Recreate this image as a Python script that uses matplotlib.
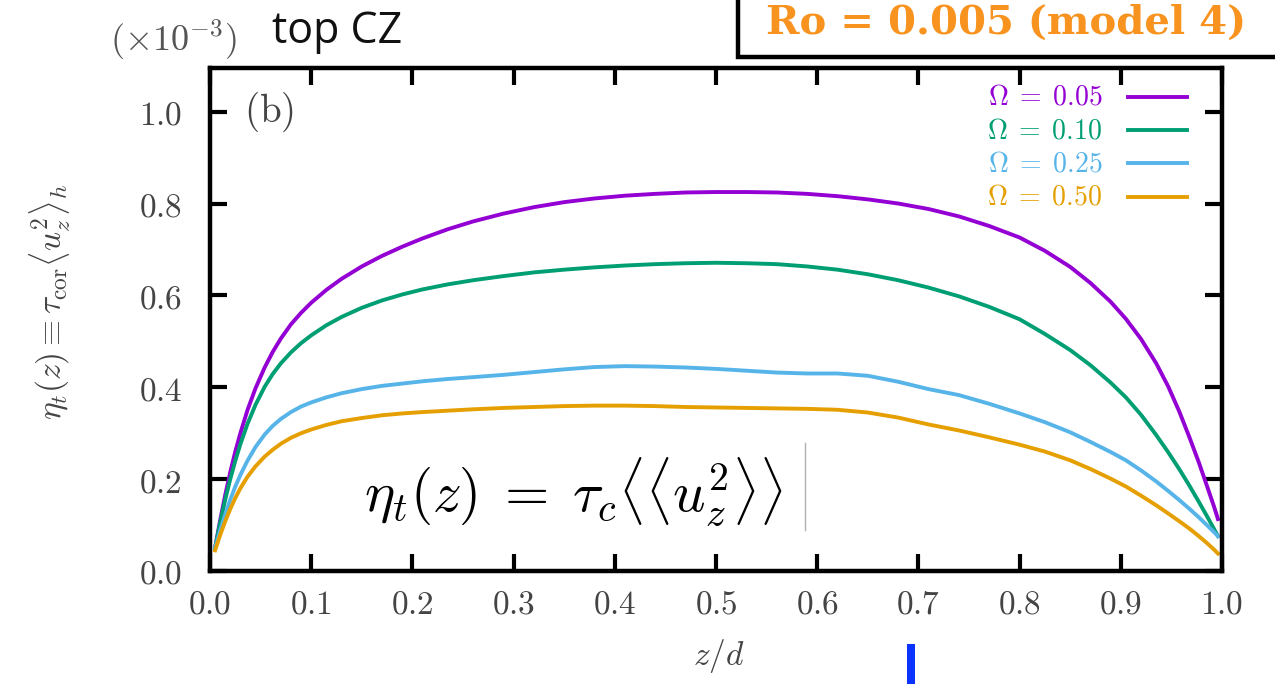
import matplotlib
matplotlib.use("Agg")
import matplotlib.pyplot as plt
from matplotlib.lines import Line2D
from matplotlib.patches import Rectangle

plt.rcParams["mathtext.fontset"] = "cm"

# vertical position z/d
z = [0.005, 0.01, 0.015, 0.02, 0.025, 0.03, 0.037, 0.045, 0.054, 0.062,
     0.07, 0.08, 0.09, 0.1, 0.115, 0.13, 0.15, 0.17, 0.19, 0.21,
     0.235, 0.26, 0.29, 0.32, 0.35, 0.38, 0.41, 0.44, 0.47, 0.5,
     0.53, 0.56, 0.59, 0.62, 0.65, 0.68, 0.71, 0.74, 0.77, 0.8,
     0.825, 0.85, 0.87, 0.89, 0.905, 0.92, 0.935, 0.947, 0.958, 0.968,
     0.977, 0.985, 0.992, 0.996]

# eta_t profiles (units of 1e-3) for each rotation rate
eta_005 = [0.05, 0.11, 0.165, 0.215, 0.26, 0.30, 0.35, 0.398, 0.443, 0.477,
           0.506, 0.537, 0.562, 0.584, 0.612, 0.636, 0.663, 0.686, 0.706, 0.724,
           0.744, 0.761, 0.778, 0.792, 0.803, 0.811, 0.817, 0.821, 0.824, 0.825,
           0.825, 0.824, 0.821, 0.816, 0.809, 0.800, 0.788, 0.772, 0.751, 0.726,
           0.697, 0.662, 0.627, 0.586, 0.549, 0.505, 0.452, 0.401, 0.346, 0.29,
           0.237, 0.186, 0.141, 0.113]
eta_010 = [0.05, 0.105, 0.155, 0.20, 0.24, 0.276, 0.32, 0.362, 0.401, 0.429,
           0.452, 0.476, 0.496, 0.513, 0.535, 0.553, 0.573, 0.589, 0.602, 0.613,
           0.624, 0.633, 0.642, 0.650, 0.656, 0.661, 0.665, 0.668, 0.670, 0.671,
           0.670, 0.668, 0.663, 0.656, 0.646, 0.633, 0.617, 0.598, 0.575, 0.548,
           0.516, 0.481, 0.448, 0.41, 0.378, 0.34, 0.296, 0.258, 0.221, 0.185,
           0.151, 0.12, 0.092, 0.076]
eta_025 = [0.05, 0.088, 0.123, 0.155, 0.184, 0.209, 0.24, 0.27, 0.297, 0.316,
           0.331, 0.346, 0.358, 0.367, 0.378, 0.387, 0.396, 0.403, 0.408, 0.413,
           0.418, 0.422, 0.427, 0.433, 0.439, 0.444, 0.446, 0.445, 0.443, 0.440,
           0.436, 0.432, 0.430, 0.430, 0.425, 0.412, 0.396, 0.383, 0.364, 0.343,
           0.324, 0.302, 0.281, 0.259, 0.241, 0.219, 0.195, 0.174, 0.154, 0.135,
           0.117, 0.1, 0.085, 0.076]
eta_050 = [0.045, 0.078, 0.108, 0.135, 0.159, 0.18, 0.205, 0.228, 0.249, 0.264,
           0.277, 0.29, 0.30, 0.308, 0.318, 0.326, 0.333, 0.339, 0.343, 0.346,
           0.349, 0.352, 0.355, 0.357, 0.359, 0.360, 0.360, 0.359, 0.357, 0.356,
           0.355, 0.354, 0.353, 0.351, 0.345, 0.334, 0.319, 0.306, 0.291, 0.275,
           0.26, 0.241, 0.222, 0.201, 0.184, 0.164, 0.143, 0.125, 0.108, 0.092,
           0.076, 0.061, 0.047, 0.038]

series_labels = [r"$\Omega\;=\;0.05$", r"$\Omega\;=\;0.10$",
                 r"$\Omega\;=\;0.25$", r"$\Omega\;=\;0.50$"]
series_values = [eta_005, eta_010, eta_025, eta_050]
series_colors = ["#9400D3", "#009E73", "#56B4E9", "#E69F00"]

x_ticks = [0.0, 0.1, 0.2, 0.3, 0.4, 0.5, 0.6, 0.7, 0.8, 0.9, 1.0]
y_ticks = [0.0, 0.2, 0.4, 0.6, 0.8, 1.0]

W, H = 1275, 684
fig = plt.figure(figsize=(W / 100, H / 100), dpi=100)
fig.patch.set_facecolor("white")

ax = fig.add_axes([210 / W, 1 - 571 / H, (1222 - 210) / W, (571 - 68) / H])

for vals, col in zip(series_values, series_colors):
    ax.plot(z, vals, color=col, lw=2.8, solid_joinstyle="round")

ax.set_xlim(0, 1)
ax.set_ylim(0, 1.095)
ax.set_xticks(x_ticks)
ax.set_yticks(y_ticks)
ax.set_xticklabels([f"${v:.1f}$" for v in x_ticks])
ax.set_yticklabels([f"${v:.1f}$" for v in y_ticks])

tick_gray = "#444444"
ax.tick_params(axis="both", which="major", direction="in", length=12, width=3,
               top=True, right=True, labelsize=24, labelcolor=tick_gray, color="black")
ax.tick_params(axis="x", pad=12)
ax.tick_params(axis="y", pad=20)
for sp in ax.spines.values():
    sp.set_linewidth(3.2)
    sp.set_color("black")

ax.set_xlabel(r"$z/d$", fontsize=24, color=tick_gray)
ax.xaxis.set_label_coords(0.503, -0.132)
ax.set_ylabel(r"$\eta_t(z) \equiv \tau_{\rm cor}\langle u_z^2\rangle_h$",
              fontsize=24, color=tick_gray, va="center")
ax.yaxis.set_label_coords(-0.158, 0.535)

# panel tag
ax.text(0.034, 1.0, r"$\mathrm{(b)}$", fontsize=28, color=tick_gray,
        va="center", ha="left", transform=ax.get_yaxis_transform())

# legend: colored labels with line samples to the right
leg_y = [1.032, 0.96, 0.888, 0.815]
for lab, col, yy in zip(series_labels, series_colors, leg_y):
    ax.text(0.882, yy, lab, color=col, fontsize=20, ha="right", va="center",
            transform=ax.get_yaxis_transform())
    ax.add_line(Line2D([0.907, 0.965], [yy, yy], color=col, lw=2.8,
                       transform=ax.get_yaxis_transform()))

# formula annotation
ax.text(0.152, 0.172, r"$\eta_t(z)\;=\;\tau_c\langle\langle u_z^2\rangle\rangle$",
        fontsize=41, color="black", ha="left", va="center")
fig.add_artist(Line2D([805 / W, 805 / W], [1 - 443 / H, 1 - 530 / H],
                      color="#b0b0b0", lw=1.0))

# header texts
fig.text(110 / W, 1 - 40 / H, r"$(\times10^{-3})$", fontsize=26, color="#555555",
         ha="left", va="center")
fig.text(272 / W, 1 - 43 / H, "top CZ", fontsize=31, color="#111111",
         family="Open Sans", ha="left", va="baseline")

box = Rectangle((738 / W, 1 - 57 / H), 0.5, 0.2, transform=fig.transFigure,
                facecolor="white", edgecolor="black", lw=3.2, clip_on=False)
fig.add_artist(box)
fig.text(1006 / W, 1 - 23 / H, "Ro = 0.005 (model 4)", fontsize=29,
         color="#F7931E", fontweight="bold", family="DejaVu Serif",
         ha="center", va="center")

# blue marker below the axis
fig.add_artist(Rectangle((907 / W, 0), 8 / W, 40 / H, transform=fig.transFigure,
                         facecolor="#0a33ff", edgecolor="none"))

fig.savefig("out.png", dpi=100, facecolor="white")
